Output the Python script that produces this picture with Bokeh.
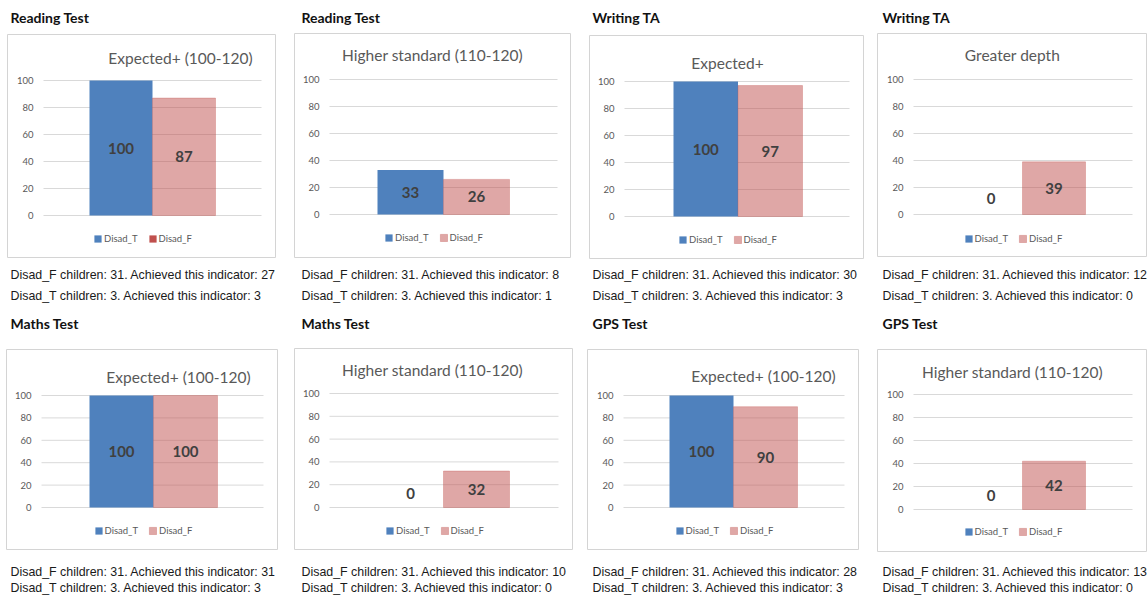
from bokeh.plotting import figure
from bokeh.models import Range1d, Legend, LegendItem
from bokeh.core.properties import value
from bokeh.embed import file_html
from bokeh.resources import INLINE

# ---------------- data ----------------
headings = ["Reading Test", "Reading Test", "Writing TA", "Writing TA",
            "Maths Test", "Maths Test", "GPS Test", "GPS Test"]
chart_titles = ["Expected+ (100-120)", "Higher standard (110-120)", "Expected+", "Greater depth",
                "Expected+ (100-120)", "Higher standard (110-120)", "Expected+ (100-120)",
                "Higher standard (110-120)"]
series = ["Disad_T", "Disad_F"]
disad_t = [100, 33, 100, 0, 100, 0, 100, 0]
disad_f = [87, 26, 97, 39, 100, 32, 90, 42]
f_children = [31, 31, 31, 31, 31, 31, 31, 31]
t_children = [3, 3, 3, 3, 3, 3, 3, 3]
f_achieved = [27, 8, 30, 12, 31, 10, 28, 13]
t_achieved = [3, 1, 3, 0, 3, 0, 3, 0]
y_ticks = [0, 20, 40, 60, 80, 100]

# ---------------- layout (pixel positions on the page) ----------------
LAYOUT = [
    dict(box=(7, 275, 34, 257), grid=(43, 261), y0=215, y100=80, bar=(89, 63), title=(180, 57), leg=239, hx=10, head=17, lines=(274, 295)),
    dict(box=(294, 570, 33, 257), grid=(329, 557), y0=214, y100=79, bar=(377, 66), title=(432, 54), leg=238, hx=301, head=17, lines=(274, 295)),
    dict(box=(589, 863, 35, 258), grid=(624, 849), y0=216, y100=81, bar=(673, 64.5), title=(727, 62), leg=240, hx=592, head=17, lines=(274, 295)),
    dict(box=(877, 1146, 33, 256), grid=(913, 1132), y0=214, y100=79, bar=(959, 63), title=(1012, 54), leg=239, hx=882, head=17, lines=(274, 295)),
    dict(box=(6, 277, 349, 549), grid=(41, 263), y0=507, y100=395, bar=(89, 64), title=(178, 376), leg=531, hx=10, head=323, lines=(571, 587)),
    dict(box=(294, 572, 348, 549), grid=(329, 558), y0=507, y100=393, bar=(377, 66), title=(432, 369), leg=531, hx=301, head=323, lines=(571, 587)),
    dict(box=(587, 858, 349, 549), grid=(623, 844), y0=507, y100=395, bar=(669, 64), title=(763, 375), leg=531, hx=592, head=323, lines=(571, 587)),
    dict(box=(877, 1146, 349, 551), grid=(913, 1132), y0=509, y100=394, bar=(959, 63), title=(1012, 371), leg=532, hx=882, head=323, lines=(571, 587)),
]

W, H = 1148, 596

BLUE = "#4F81BD"
RED = "#C0504D"
GRID = "#d9d9d9"
AXIS_TXT = "#595959"
CAL = value("Lato")
ARIAL = value("Liberation Sans")

p = figure(width=W, height=H, output_backend="svg", toolbar_location=None,
           x_range=Range1d(0, W), y_range=Range1d(H, 0),
           x_axis_location=None, y_axis_location=None,
           min_border=0, outline_line_color=None,
           background_fill_color="white", border_fill_color="white")
p.grid.visible = False

extra_x = {}
extra_y = {}

for k, L in enumerate(LAYOUT):
    xname, yname = f"x{k}", f"y{k}"
    # panel y range: value 0 -> y0 pixel, 100 -> y100 pixel
    b0 = H - L["y0"]
    b100 = H - L["y100"]
    s = (b100 - b0) / 100.0
    ystart = -b0 / s
    extra_y[yname] = Range1d(ystart, ystart + H / s)
    # panel x range: category index i centred on bar i
    xl, w = L["bar"]
    xstart = -(xl + w / 2.0) / w
    extra_x[xname] = Range1d(xstart, xstart + W / w)

p.extra_x_ranges = extra_x
p.extra_y_ranges = extra_y

for k, L in enumerate(LAYOUT):
    xname, yname = f"x{k}", f"y{k}"
    l, r, t, b = L["box"]
    # chart frame box
    p.quad(left=[l], right=[r], top=[t], bottom=[b],
           fill_color=None, line_color="#d4d4d4", line_width=1)
    # gridlines
    gl, gr = L["grid"]
    p.segment(x0=[gl] * len(y_ticks), x1=[gr] * len(y_ticks), y0=y_ticks, y1=y_ticks,
              y_range_name=yname, line_color=GRID, line_width=1)
    # tick labels
    p.text(x=[gl - 10] * len(y_ticks), y=y_ticks, text=[str(v) for v in y_ticks],
           y_range_name=yname, text_align="right", text_baseline="middle",
           text_font=CAL, text_font_size="9.5px", text_color=AXIS_TXT)
    # bars
    rT = p.vbar(x=[0], top=[disad_t[k]], bottom=0, width=1,
                x_range_name=xname, y_range_name=yname,
                fill_color=BLUE, line_color=None)
    rF = p.vbar(x=[1], top=[disad_f[k]], bottom=0, width=1,
                x_range_name=xname, y_range_name=yname,
                fill_color=RED, fill_alpha=0.5, line_color=RED, line_alpha=0.3)
    leg_F = rF
    if k == 0:
        # legend-only renderer: the first panel's legend shows the full-strength swatch
        leg_F = p.vbar(x=[1], top=[0], bottom=0, width=1,
                       x_range_name=xname, y_range_name=yname,
                       fill_color=RED, line_color=None)
    # data labels
    vals = [disad_t[k], disad_f[k]]
    ypos = [v / 2.0 if v > 0 else 12 for v in vals]
    p.text(x=[0, 1], y=ypos, text=[str(v) for v in vals],
           x_range_name=xname, y_range_name=yname,
           text_align="center", text_baseline="middle",
           text_font=CAL, text_font_style="bold", text_font_size="15px", text_color="#404040")
    # chart title
    p.text(x=[L["title"][0]], y=[L["title"][1]], text=[chart_titles[k]],
           text_align="center", text_baseline="middle",
           text_font=CAL, text_font_size="15.5px", text_color=AXIS_TXT)
    # heading
    p.text(x=[L["hx"]], y=[L["head"]], text=[headings[k]],
           text_align="left", text_baseline="middle",
           text_font=CAL, text_font_style="bold", text_font_size="14px", text_color="#111111")
    # notes under the chart
    notes = [f"Disad_F children: {f_children[k]}. Achieved this indicator: {f_achieved[k]}",
             f"Disad_T children: {t_children[k]}. Achieved this indicator: {t_achieved[k]}"]
    p.text(x=[L["hx"]] * 2, y=[L["lines"][0], L["lines"][1]], text=notes,
           text_align="left", text_baseline="middle",
           text_font=ARIAL, text_font_size="12.4px", text_color="#1a1a1a")
    # legend
    cx = (l + r) / 2.0
    lh = 9
    legend = Legend(items=[LegendItem(label=series[0], renderers=[rT]),
                           LegendItem(label=series[1], renderers=[leg_F])],
                    orientation="horizontal",
                    location=(cx - 48, H - L["leg"] - lh / 2.0),
                    glyph_width=9, glyph_height=9, label_height=lh, label_width=10,
                    label_standoff=2, spacing=10, padding=0, margin=0,
                    label_text_font="Lato", label_text_font_size="9.5px",
                    label_text_color=AXIS_TXT, label_text_baseline="middle",
                    border_line_color=None, background_fill_alpha=0)
    p.add_layout(legend)

open("out.html", "w").write(file_html(p, INLINE))
